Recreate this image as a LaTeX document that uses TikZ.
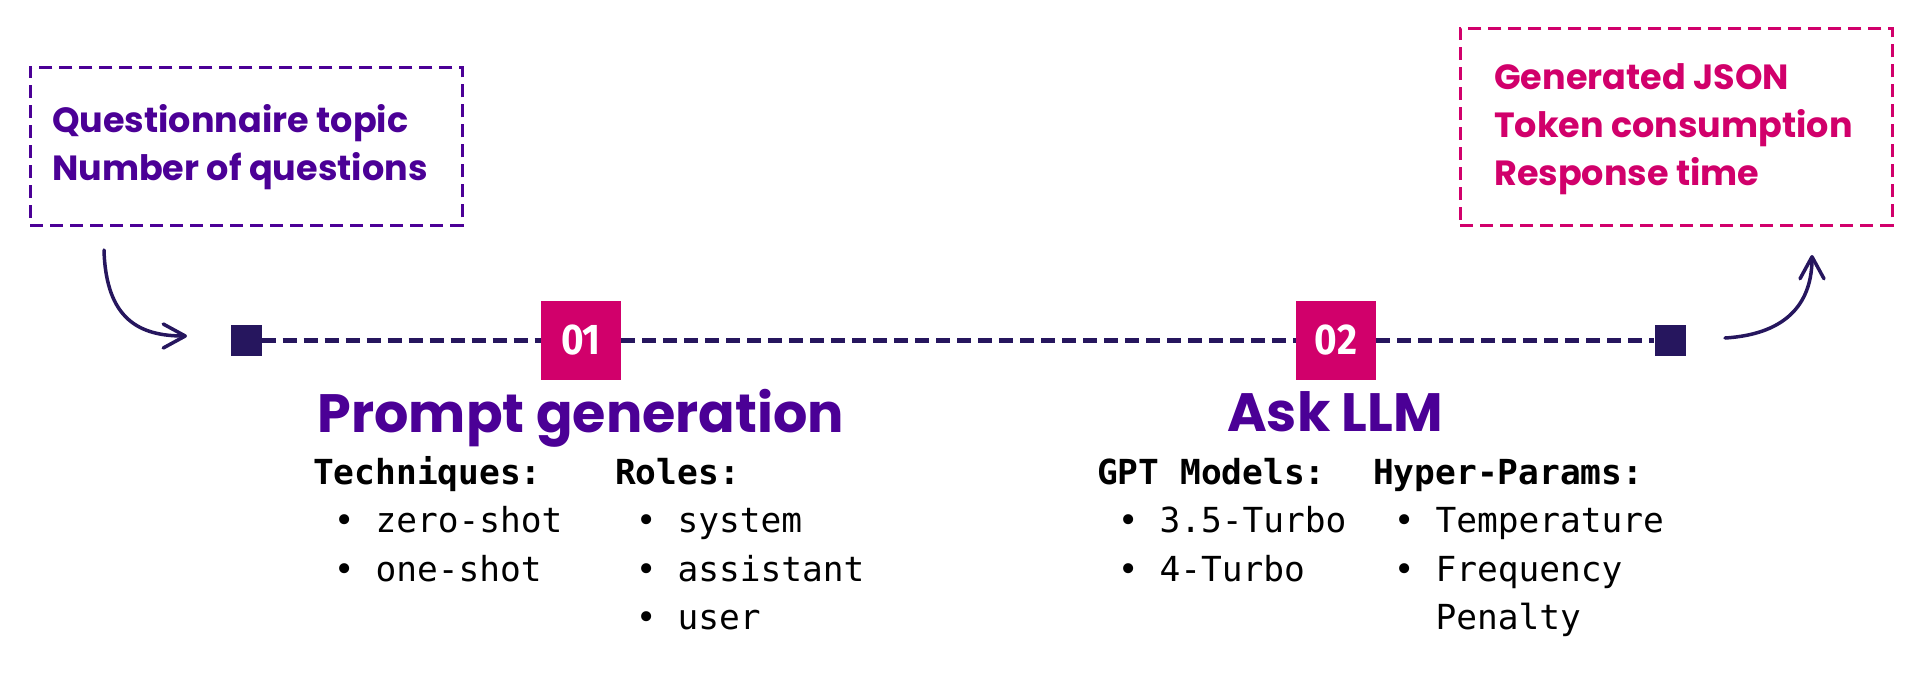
\documentclass[tikz,border=0pt]{standalone}
\usepackage{fontspec}
\usetikzlibrary{arrows.meta}
\newfontfamily\pop{Poppins}
\newfontfamily\mono{DejaVu Sans Mono}
\newfontfamily\fira{Fira Sans}
\definecolor{navy}{RGB}{38,22,94}
\definecolor{purp}{RGB}{75,0,150}
\definecolor{hotpink}{RGB}{209,0,107}
\newcommand\itm[1]{\hphantom{x}•\hphantom{x}#1}
\newcommand\hdr[1]{{\bfseries #1}}
\begin{document}
\begin{tikzpicture}[x=1pt,y=-1pt,
  inbox/.style={draw, line width=2.5pt, dash pattern=on 13pt off 7pt, inner sep=0pt, anchor=north west},
  boxtext/.style={anchor=base west, inner sep=0pt, font=\pop\bfseries\fontsize{35}{48}\selectfont},
  title/.style={anchor=base, inner sep=0pt, text=purp, font=\pop\bfseries\fontsize{54}{60}\selectfont},
  badge/.style={fill=hotpink, minimum width=80pt, minimum height=79pt, inner sep=0pt, text=white, font=\fira\bfseries\fontsize{43}{43}\selectfont},
  sq/.style={fill=navy, minimum size=31pt, inner sep=0pt},
  conn/.style={draw=navy, line width=5pt, dash pattern=on 14pt off 7pt},
  arr/.style={draw=navy, line width=3.5pt, line cap=round, -{Straight Barb[length=22pt, width=24pt, round]}},
  monotext/.style={anchor=base west, inner sep=0pt, font=\mono\fontsize{34.5}{48.5}\selectfont}
]
\useasboundingbox (0,0) rectangle (1920,673);

% input box
\node[inbox, draw=purp, minimum width=432pt, minimum height=158pt] (inbox) at (29,66) {};
\node[boxtext, text=purp] (intext) at (52,132) {\begin{tabular}[t]{@{}l@{}}Questionnaire topic\\Number of questions\end{tabular}};

% output box
\node[inbox, draw=hotpink, minimum width=432pt, minimum height=197pt] (outbox) at (1459,27) {};
\node[boxtext, text=hotpink] (outtext) at (1494,89) {\begin{tabular}[t]{@{}l@{}}Generated JSON\\Token consumption\\Response time\end{tabular}};

% timeline
\node[sq] (s1) at (246,340) {};
\node[badge] (b1) at (581,340) {\scalebox{0.9}[1]{01}};
\node[badge] (b2) at (1336,340) {\scalebox{0.9}[1]{02}};
\node[sq] (s2) at (1670,340) {};
\draw[conn] (s1) -- (b1);
\draw[conn] (b1) -- (b2);
\draw[conn] (b2) -- (s2);

% arrows
\coordinate (a1s) at (104,250);
\coordinate (a1e) at (187,336);
\draw[arr] (a1s) .. controls (106,320) and (140,336) .. (a1e);
\coordinate (a2s) at (1725,338);
\coordinate (a2e) at (1812,255);
\draw[arr] (a2s) .. controls (1790,334) and (1812,300) .. (a2e);

% titles
\node[title] (t1) at (581,432) {Prompt generation};
\node[title] (t2) at (1335,431) {Ask LLM};

% lists
\node[monotext] (tech) at (313,484) {\begin{tabular}[t]{@{}l@{}}\hdr{Techniques:}\\\itm{zero-shot}\\\itm{one-shot}\end{tabular}};
\node[monotext] (roles) at (615,484) {\begin{tabular}[t]{@{}l@{}}\hdr{Roles:}\\\itm{system}\\\itm{assistant}\\\itm{user}\end{tabular}};
\node[monotext] (gpt) at (1097,484) {\begin{tabular}[t]{@{}l@{}}\hdr{GPT Models:}\\\itm{3.5-Turbo}\\\itm{4-Turbo}\end{tabular}};
\node[monotext] (hyper) at (1373,484) {\begin{tabular}[t]{@{}l@{}}\hdr{Hyper-Params:}\\\itm{Temperature}\\\itm{Frequency}\\\hphantom{xxx}Penalty\end{tabular}};
\end{tikzpicture}
\end{document}
